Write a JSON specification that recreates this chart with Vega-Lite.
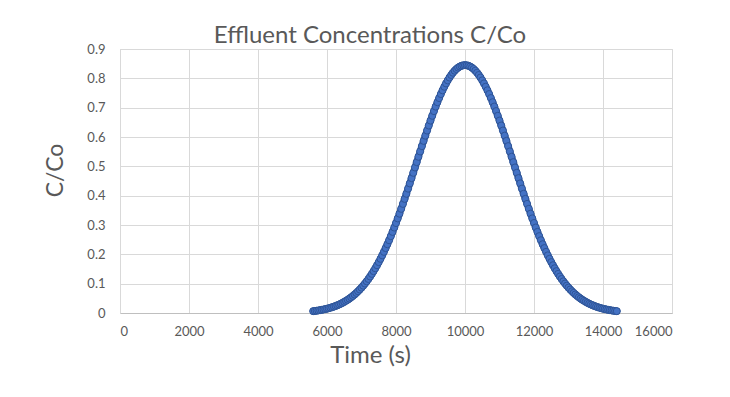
{
  "$schema": "https://vega.github.io/schema/vega-lite/v6.json",
  "autosize": "none",
  "width": 552,
  "height": 264,
  "padding": {"left": 120, "top": 49, "right": 58, "bottom": 84},
  "background": "white",
  "title": {
    "text": "Effluent Concentrations C/Co",
    "font": "Lato",
    "fontSize": 24,
    "fontWeight": "normal",
    "color": "#595959",
    "anchor": "middle",
    "dx": -26,
    "offset": -5
  },
  "data": {
    "values": [
      {"t": 5600, "c": 0.0063}, {"t": 5650, "c": 0.0070}, {"t": 5700, "c": 0.0078}, {"t": 5750, "c": 0.0087},
      {"t": 5800, "c": 0.0097}, {"t": 5850, "c": 0.0108}, {"t": 5900, "c": 0.0120}, {"t": 5950, "c": 0.0133},
      {"t": 6000, "c": 0.0147}, {"t": 6050, "c": 0.0162}, {"t": 6100, "c": 0.0179}, {"t": 6150, "c": 0.0198},
      {"t": 6200, "c": 0.0218}, {"t": 6250, "c": 0.0240}, {"t": 6300, "c": 0.0264}, {"t": 6350, "c": 0.0289},
      {"t": 6400, "c": 0.0317}, {"t": 6450, "c": 0.0347}, {"t": 6500, "c": 0.0380}, {"t": 6550, "c": 0.0415},
      {"t": 6600, "c": 0.0452}, {"t": 6650, "c": 0.0492}, {"t": 6700, "c": 0.0536}, {"t": 6750, "c": 0.0582},
      {"t": 6800, "c": 0.0632}, {"t": 6850, "c": 0.0684}, {"t": 6900, "c": 0.0741}, {"t": 6950, "c": 0.0801},
      {"t": 7000, "c": 0.0865}, {"t": 7050, "c": 0.0932}, {"t": 7100, "c": 0.1004}, {"t": 7150, "c": 0.1080},
      {"t": 7200, "c": 0.1160}, {"t": 7250, "c": 0.1244}, {"t": 7300, "c": 0.1333}, {"t": 7350, "c": 0.1427},
      {"t": 7400, "c": 0.1525}, {"t": 7450, "c": 0.1628}, {"t": 7500, "c": 0.1735}, {"t": 7550, "c": 0.1847},
      {"t": 7600, "c": 0.1965}, {"t": 7650, "c": 0.2086}, {"t": 7700, "c": 0.2213}, {"t": 7750, "c": 0.2344},
      {"t": 7800, "c": 0.2480}, {"t": 7850, "c": 0.2620}, {"t": 7900, "c": 0.2765}, {"t": 7950, "c": 0.2914},
      {"t": 8000, "c": 0.3068}, {"t": 8050, "c": 0.3225}, {"t": 8100, "c": 0.3386}, {"t": 8150, "c": 0.3551},
      {"t": 8200, "c": 0.3719}, {"t": 8250, "c": 0.3890}, {"t": 8300, "c": 0.4064}, {"t": 8350, "c": 0.4240},
      {"t": 8400, "c": 0.4418}, {"t": 8450, "c": 0.4598}, {"t": 8500, "c": 0.4779}, {"t": 8550, "c": 0.4961},
      {"t": 8600, "c": 0.5143}, {"t": 8650, "c": 0.5326}, {"t": 8700, "c": 0.5507}, {"t": 8750, "c": 0.5688},
      {"t": 8800, "c": 0.5868}, {"t": 8850, "c": 0.6045}, {"t": 8900, "c": 0.6220}, {"t": 8950, "c": 0.6391},
      {"t": 9000, "c": 0.6559}, {"t": 9050, "c": 0.6723}, {"t": 9100, "c": 0.6883}, {"t": 9150, "c": 0.7037},
      {"t": 9200, "c": 0.7186}, {"t": 9250, "c": 0.7328}, {"t": 9300, "c": 0.7464}, {"t": 9350, "c": 0.7592},
      {"t": 9400, "c": 0.7714}, {"t": 9450, "c": 0.7827}, {"t": 9500, "c": 0.7931}, {"t": 9550, "c": 0.8028},
      {"t": 9600, "c": 0.8114}, {"t": 9650, "c": 0.8192}, {"t": 9700, "c": 0.8260}, {"t": 9750, "c": 0.8317},
      {"t": 9800, "c": 0.8365}, {"t": 9850, "c": 0.8402}, {"t": 9900, "c": 0.8429}, {"t": 9950, "c": 0.8445},
      {"t": 10000, "c": 0.8450},
      {"t": 10050, "c": 0.8445}, {"t": 10100, "c": 0.8429}, {"t": 10150, "c": 0.8402}, {"t": 10200, "c": 0.8365},
      {"t": 10250, "c": 0.8317}, {"t": 10300, "c": 0.8260}, {"t": 10350, "c": 0.8192}, {"t": 10400, "c": 0.8114},
      {"t": 10450, "c": 0.8028}, {"t": 10500, "c": 0.7931}, {"t": 10550, "c": 0.7827}, {"t": 10600, "c": 0.7714},
      {"t": 10650, "c": 0.7592}, {"t": 10700, "c": 0.7464}, {"t": 10750, "c": 0.7328}, {"t": 10800, "c": 0.7186},
      {"t": 10850, "c": 0.7037}, {"t": 10900, "c": 0.6883}, {"t": 10950, "c": 0.6723}, {"t": 11000, "c": 0.6559},
      {"t": 11050, "c": 0.6391}, {"t": 11100, "c": 0.6220}, {"t": 11150, "c": 0.6045}, {"t": 11200, "c": 0.5868},
      {"t": 11250, "c": 0.5688}, {"t": 11300, "c": 0.5507}, {"t": 11350, "c": 0.5326}, {"t": 11400, "c": 0.5143},
      {"t": 11450, "c": 0.4961}, {"t": 11500, "c": 0.4779}, {"t": 11550, "c": 0.4598}, {"t": 11600, "c": 0.4418},
      {"t": 11650, "c": 0.4240}, {"t": 11700, "c": 0.4064}, {"t": 11750, "c": 0.3890}, {"t": 11800, "c": 0.3719},
      {"t": 11850, "c": 0.3551}, {"t": 11900, "c": 0.3386}, {"t": 11950, "c": 0.3225}, {"t": 12000, "c": 0.3068},
      {"t": 12050, "c": 0.2914}, {"t": 12100, "c": 0.2765}, {"t": 12150, "c": 0.2620}, {"t": 12200, "c": 0.2480},
      {"t": 12250, "c": 0.2344}, {"t": 12300, "c": 0.2213}, {"t": 12350, "c": 0.2086}, {"t": 12400, "c": 0.1965},
      {"t": 12450, "c": 0.1847}, {"t": 12500, "c": 0.1735}, {"t": 12550, "c": 0.1628}, {"t": 12600, "c": 0.1525},
      {"t": 12650, "c": 0.1427}, {"t": 12700, "c": 0.1333}, {"t": 12750, "c": 0.1244}, {"t": 12800, "c": 0.1160},
      {"t": 12850, "c": 0.1080}, {"t": 12900, "c": 0.1004}, {"t": 12950, "c": 0.0932}, {"t": 13000, "c": 0.0865},
      {"t": 13050, "c": 0.0801}, {"t": 13100, "c": 0.0741}, {"t": 13150, "c": 0.0684}, {"t": 13200, "c": 0.0632},
      {"t": 13250, "c": 0.0582}, {"t": 13300, "c": 0.0536}, {"t": 13350, "c": 0.0492}, {"t": 13400, "c": 0.0452},
      {"t": 13450, "c": 0.0415}, {"t": 13500, "c": 0.0380}, {"t": 13550, "c": 0.0347}, {"t": 13600, "c": 0.0317},
      {"t": 13650, "c": 0.0289}, {"t": 13700, "c": 0.0264}, {"t": 13750, "c": 0.0240}, {"t": 13800, "c": 0.0218},
      {"t": 13850, "c": 0.0198}, {"t": 13900, "c": 0.0179}, {"t": 13950, "c": 0.0162}, {"t": 14000, "c": 0.0147},
      {"t": 14050, "c": 0.0133}, {"t": 14100, "c": 0.0120}, {"t": 14150, "c": 0.0108}, {"t": 14200, "c": 0.0097},
      {"t": 14250, "c": 0.0087}, {"t": 14300, "c": 0.0078}, {"t": 14350, "c": 0.0070}, {"t": 14400, "c": 0.0063}
    ]
  },
  "encoding": {
    "x": {
      "field": "t",
      "type": "quantitative",
      "scale": {"domain": [0, 16000], "nice": false, "zero": true},
      "axis": {
        "title": "Time (s)",
        "values": [0, 2000, 4000, 6000, 8000, 10000, 12000, 14000, 16000],
        "format": "d",
        "grid": true,
        "gridColor": "#D9D9D9",
        "gridWidth": 1,
        "domainColor": "#BFBFBF",
        "ticks": false,
        "labelPadding": 12,
        "labelFont": "Lato",
        "labelFontSize": 13,
        "labelColor": "#595959",
        "titleFont": "Lato",
        "titleFontSize": 24,
        "titleFontWeight": "normal",
        "titleColor": "#595959",
        "titlePadding": 5,
        "titleX": 250
      }
    },
    "y": {
      "field": "c",
      "type": "quantitative",
      "scale": {"domain": [0, 0.9], "nice": false},
      "axis": {
        "title": "C/Co",
        "values": [0, 0.1, 0.2, 0.3, 0.4, 0.5, 0.6, 0.7, 0.8, 0.9],
        "format": ".1~f",
        "grid": true,
        "gridColor": "#D9D9D9",
        "gridWidth": 1,
        "domainColor": "#D9D9D9",
        "ticks": false,
        "labelPadding": 15,
        "labelFont": "Lato",
        "labelFontSize": 13,
        "labelColor": "#595959",
        "titleFont": "Lato",
        "titleFontSize": 23,
        "titleFontWeight": "normal",
        "titleColor": "#595959",
        "titlePadding": 19,
        "titleY": 121
      }
    }
  },
  "layer": [
    {
      "mark": {"type": "line", "color": "#2F5597", "strokeWidth": 7, "strokeCap": "round", "strokeJoin": "round"}
    },
    {
      "mark": {
        "type": "point",
        "shape": "circle",
        "filled": true,
        "fill": "#4472C4",
        "stroke": "#2F5597",
        "strokeWidth": 1,
        "opacity": 1,
        "size": 50
      }
    }
  ],
  "config": {
    "view": {"stroke": "#D9D9D9"}
  }
}
